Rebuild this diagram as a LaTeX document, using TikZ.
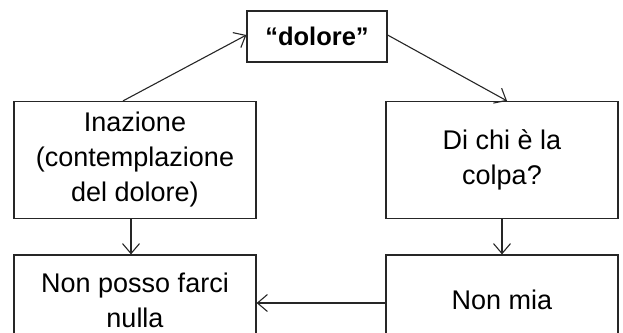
\documentclass[tikz,border=0pt]{standalone}
\usepackage{fontspec}
\setmainfont{Liberation Sans}
\usetikzlibrary{arrows.meta}
\begin{document}
\begin{tikzpicture}[x=1pt,y=-1pt,
  box/.style={draw=black!85,line width=1.2pt,rectangle,inner sep=0pt,
    align=center,font=\fontsize{27}{35}\selectfont},
  link/.style={draw=black!85,line width=1.1pt,
    -{Straight Barb[length=10pt,width=17pt,line width=1.1pt]}}]
\useasboundingbox (0,0) rectangle (623,332);
\clip (0,0) rectangle (623,332);
% boxes
\node[box,minimum width=140pt,minimum height=51pt,
  font=\fontsize{25.5}{30}\selectfont\bfseries] (T) at (317,36.5) {“dolore”};
\node[box,minimum width=242pt,minimum height=117pt] (L) at (135,160)
  {Inazione\\(contemplazione\\del dolore)};
\node[box,minimum width=232pt,minimum height=117pt] (R) at (502,160)
  {Di chi è la\\colpa?};
\node[box,minimum width=242pt,minimum height=90pt] (BL) at (135,300)
  {Non posso farci\\nulla};
\node[box,minimum width=232pt,minimum height=90pt] (BR) at (502,300)
  {Non mia};
% connectors
\draw[link] ([xshift=-12pt]L.north) -- ([yshift=1.5pt]T.west);
\draw[link] ([yshift=1.5pt]T.east) -- ([xshift=5pt]R.north);
\draw[link] ([xshift=-4pt]L.south) -- ([xshift=-4pt]BL.north);
\draw[link] (R.south) -- (BR.north);
\draw[link] ([yshift=-3pt]BR.west) -- ([yshift=-3pt]BL.east);
\end{tikzpicture}
\end{document}
